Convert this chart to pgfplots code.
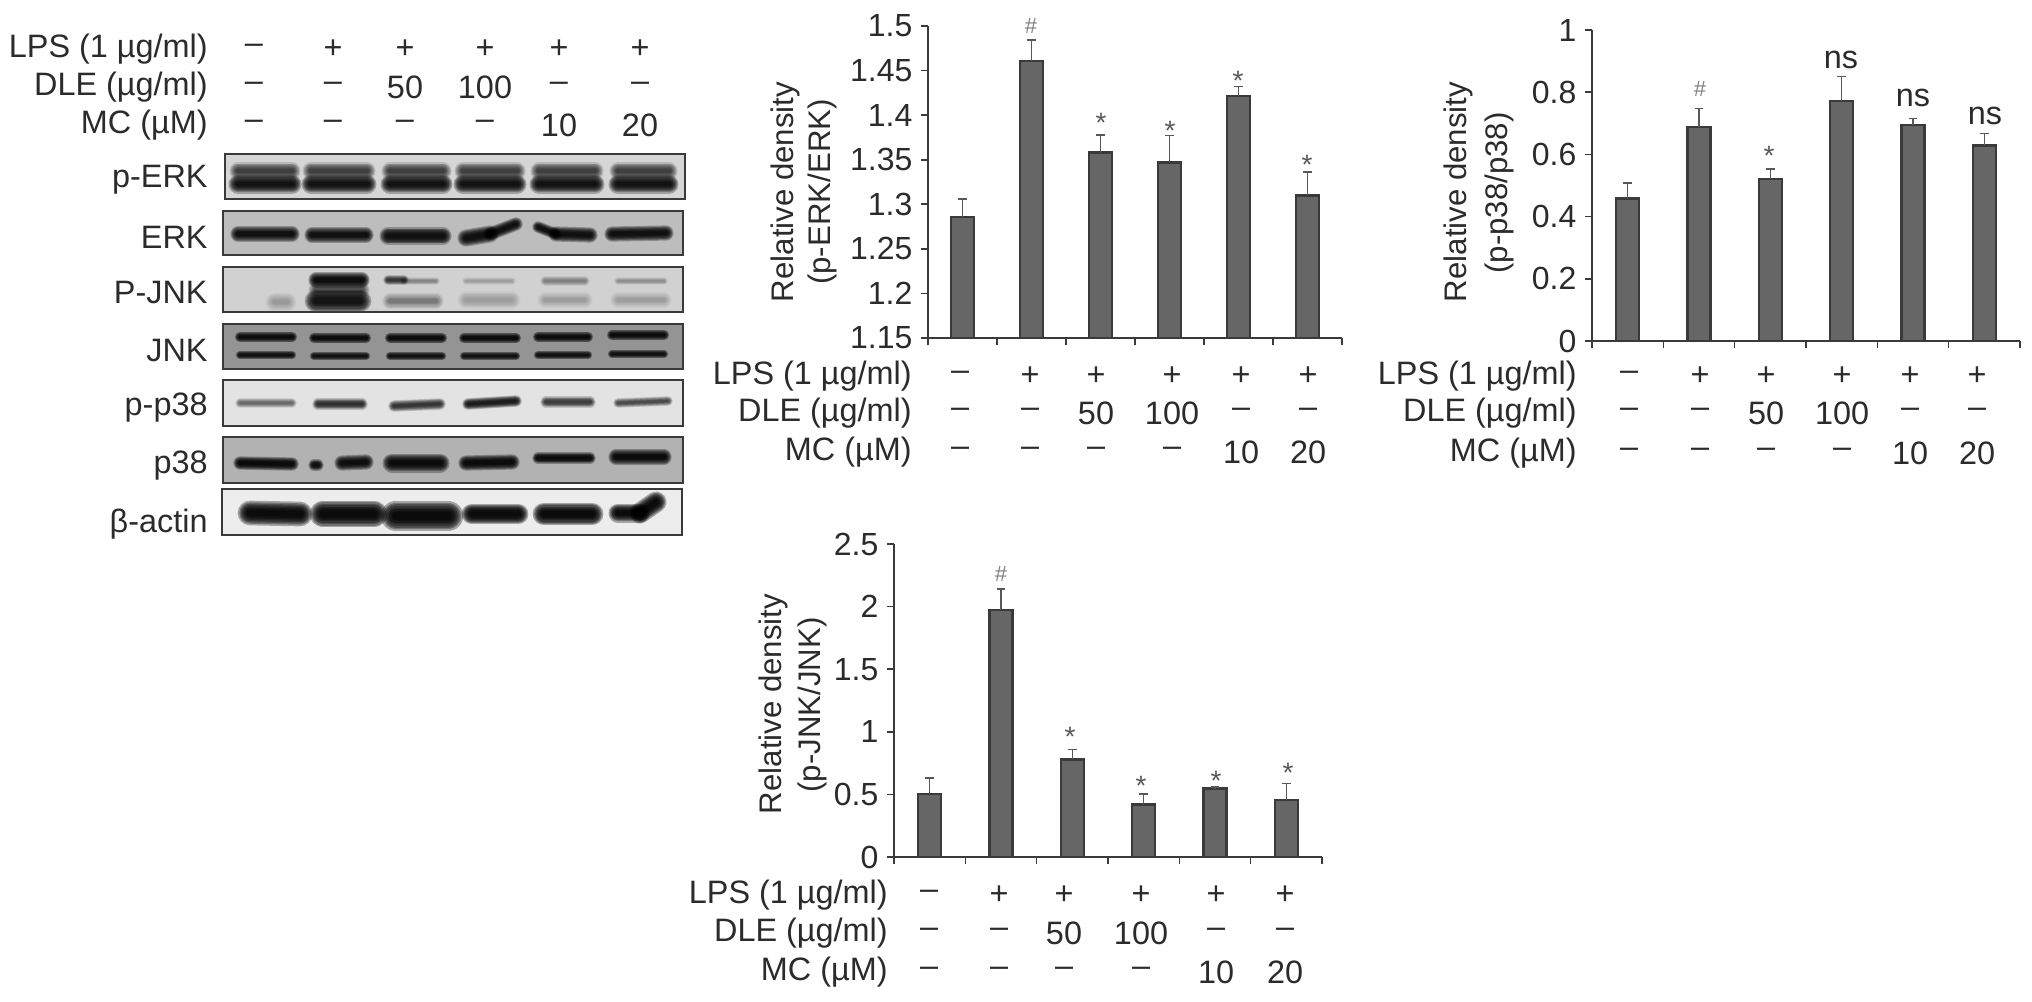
\documentclass[border=0pt]{standalone}
\usepackage{fontspec}
\setmainfont{Liberation Sans}
\usepackage{pgfplots}
\pgfplotsset{compat=1.18}
\definecolor{barfill}{HTML}{666666}
\definecolor{ink}{HTML}{2B2B2B}
\definecolor{edge}{HTML}{3A3A3A}
\pgfplotsset{densitybar/.style={
  scale only axis, axis lines=left, axis line style={-,edge,line width=0.9pt},
  xmin=0,xmax=6,xtick={0,1,2,3,4,5,6},xticklabels={},
  tick align=outside, major tick length=3.5pt, tick style={edge,line width=0.8pt},
  ybar, bar width=11.6pt,
  ticklabel style={font=\fontsize{16}{16}\selectfont,text=ink},
  yticklabel style={/pgf/number format/assume math mode=true,/pgf/number format/fixed,xshift=-0.8pt},
},
mybar/.style={fill=barfill,draw=edge,line width=1.2pt,
    error bars/y dir=plus,error bars/y explicit,
    error bars/error bar style={color=edge!85!white,line width=0.8pt},
    error bars/error mark options={rotate=90,mark size=2.2pt,line width=0.8pt,color=edge!85!white}},
}
% band(x1,y1,x2,y2,thick,opacity): blurred stroke built from stacked strokes
\newcommand\band[6]{\foreach \w in {1.9,1.65,1.45,1.25,1.05,0.85,0.65,0.45}{\draw[line cap=round,line width=\w*#5*0.5pt,draw=black,opacity=0.62*#6] (#1,#2)--(#3,#4);}}
\newcommand\panel[5]{\fill[#5] (#1,#2) rectangle (#3,#4); }
\newcommand\frameit[4]{\draw[edge,line width=1.3pt] (#1,#2) rectangle (#3,#4);}
\newcommand\lab[3]{\node[anchor=east,inner sep=0pt,text=ink,font=\fontsize{16.2}{16.2}\selectfont] at (#1,#2) {#3};}
\newcommand\sym[3]{\node[inner sep=0pt,text=ink,font=\fontsize{16.2}{16.2}\selectfont] at (#1,#2) {#3};}
\newcommand\rows[9]{%
  \lab{#1}{#2}{LPS (1 µg/ml)}\lab{#1}{#3}{DLE (µg/ml)}\lab{#1}{#4}{MC (µM)}%
  \def\ya{#2}\def\yb{#3}\def\yc{#4}%
  \sym{#5}{\ya}{–}\sym{#5}{\yb}{–}\sym{#5}{\yc}{–}%
  \sym{#6}{\ya}{+}\sym{#6}{\yb}{–}\sym{#6}{\yc}{–}%
  \sym{#7}{\ya}{+}\sym{#7}{\yb}{50}\sym{#7}{\yc}{–}%
  \sym{#8}{\ya}{+}\sym{#8}{\yb}{100}\sym{#8}{\yc}{–}%
  \rowsb#9}
\newcommand\rowsb[3]{\sym{#1}{\ya}{+}\sym{#1}{\yb}{–}\sym{#1}{\yc}{#3}%
  \sym{#2}{\ya}{+}\sym{#2}{\yb}{–}\sym{#2}{\yc}{20}}
\newcommand\ylab[5]{%
  \node[rotate=90,inner sep=0pt,text=ink,font=\fontsize{15.6}{15.6}\selectfont] at (#1,#2) {Relative density};
  \node[rotate=90,inner sep=0pt,text=ink,font=\fontsize{15.6}{15.6}\selectfont] at (#3,#4) {#5};}
\newcommand\hash[2]{\node[inner sep=0pt,text=black!50,font=\fontsize{11}{11}\selectfont] at (#1,#2) {\#};}
\newcommand\sta[2]{\node[anchor=north,inner sep=0pt,text=black!65,font=\fontsize{14}{14}\selectfont] at (#1,#2-6) {*};}
\newcommand\ns[2]{\node[inner sep=0pt,text=ink,font=\fontsize{16.2}{16.2}\selectfont] at (#1,#2) {ns};}
\begin{document}
\begin{tikzpicture}[x=0.5pt,y=-0.5pt]
\path[use as bounding box,fill=white] (0,0) rectangle (2032,1001);

% ---------- blot labels
\lab{208}{49}{LPS (1 µg/ml)}\lab{208}{87}{DLE (µg/ml)}\lab{208}{125}{MC (µM)}
\sym{254}{49}{–}\sym{254}{87}{–}\sym{254}{125}{–}
\sym{333}{49}{+}\sym{333}{87}{–}\sym{333}{125}{–}
\sym{405}{49}{+}\sym{405}{87}{50}\sym{405}{125}{–}
\sym{485}{49}{+}\sym{485}{87}{100}\sym{485}{125}{–}
\sym{559}{49}{+}\sym{559}{87}{–}\sym{559}{125}{10}
\sym{640}{49}{+}\sym{640}{87}{–}\sym{640}{125}{20}
\lab{208}{180}{p-ERK}\lab{208}{237}{ERK}\lab{208}{293}{P-JNK}\lab{208}{351}{JNK}
\lab{208}{408}{p-p38}\lab{208}{466}{p38}\lab{208}{524}{β-actin}

% ---------- blot panels
\panel{225}{154}{685}{199}{black!16}
\foreach \a/\b in {238/292,311/367,390/443,463/517,539/595,618/669}{\band{\a}{171}{\b}{171}{9}{0.22}\band{\a}{184}{\b}{184}{10}{0.42}}
\frameit{225}{154}{685}{199}

\panel{223}{211}{683}{255}{black!26}
\band{238}{234}{292}{234}{8}{0.42}\band{312}{235}{366}{235}{8}{0.42}\band{388}{236}{443}{236}{9}{0.42}
\band{466}{238}{490}{234}{9}{0.42}\band{490}{234}{516}{224}{7}{0.42}
\band{538}{227}{556}{234}{6}{0.42}\band{556}{234}{590}{235}{8}{0.42}\band{612}{234}{666}{233}{8}{0.42}
\frameit{223}{211}{683}{255}

\panel{223}{267}{683}{312}{black!18}
\band{275}{302}{287}{302}{10}{0.06}
\band{316}{280}{362}{280}{8}{0.45}\band{316}{290}{362}{290}{8}{0.18}\band{316}{301}{360}{301}{12}{0.4}
\band{388}{280}{404}{280}{5}{0.24}\band{404}{281}{436}{281}{4}{0.08}\band{390}{301}{436}{301}{8}{0.10}
\band{466}{281}{512}{281}{4}{0.05}\band{466}{300}{512}{300}{9}{0.05}
\band{545}{281}{585}{281}{5}{0.09}\band{545}{300}{585}{300}{8}{0.05}
\band{618}{281}{664}{281}{4}{0.07}\band{618}{300}{664}{300}{8}{0.05}
\frameit{223}{267}{683}{312}

\panel{223}{324}{683}{369}{black!42}
\foreach \a/\b/\u/\v in {240/292/337/355,314/366/338/356,390/442/338/356,464/516/338/356,538/588/337/355,612/664/335/354}{\band{\a}{\u}{\b}{\u}{5.5}{0.42}\band{\a}{\v}{\b}{\v}{4.5}{0.38}}
\frameit{223}{324}{683}{369}

\panel{223}{380}{683}{426}{black!11}
\band{240}{403}{292}{403}{5}{0.14}\band{318}{404}{362}{404}{6}{0.28}\band{394}{406}{440}{404}{6}{0.26}
\band{468}{404}{516}{401}{6}{0.36}\band{546}{402}{590}{402}{6}{0.24}\band{618}{403}{668}{401}{5}{0.2}
\frameit{223}{380}{683}{426}

\panel{223}{437}{683}{483}{black!30}
\band{240}{463}{292}{464}{7}{0.45}\band{314}{465}{318}{465}{6}{0.42}\band{342}{463}{366}{462}{8}{0.42}
\band{392}{463}{440}{463}{10}{0.45}\band{466}{463}{512}{462}{8}{0.45}\band{538}{458}{590}{458}{6}{0.45}\band{616}{457}{664}{457}{8}{0.45}
\frameit{223}{437}{683}{483}

\panel{222}{489}{682}{535}{black!7}
\band{250}{513}{300}{514}{13}{0.5}\band{323}{514}{374}{514}{14}{0.5}\band{396}{516}{448}{516}{16}{0.5}
\band{472}{514}{518}{514}{11}{0.5}\band{544}{514}{592}{514}{12}{0.5}\band{618}{513}{640}{513}{10}{0.5}\band{640}{513}{656}{502}{11}{0.5}
\frameit{222}{489}{682}{535}

% ---------- p-ERK/ERK
\begin{axis}[densitybar,at={(464pt,-169pt)},anchor=south west,width=207pt,height=156pt,
  ymin=1.15,ymax=1.5,ytick={1.15,1.2,1.25,1.3,1.35,1.4,1.45,1.5},
  yticklabels={1.15,1.2,1.25,1.3,1.35,1.4,1.45,1.5}]
\addplot[mybar] coordinates {(0.5,1.286) +- (0,0.020) (1.5,1.461) +- (0,0.023) (2.5,1.358) +- (0,0.020)
 (3.5,1.347) +- (0,0.030) (4.5,1.4215) +- (0,0.0105) (5.5,1.310) +- (0,0.026)};
\end{axis}
\ylab{785}{192}{822}{192}{(p-ERK/ERK)}
\hash{1031}{26}\sta{1101}{119}\sta{1170}{127}\sta{1238}{77}\sta{1307}{161}
\rows{912}{376}{413}{452}{960}{1030}{1096}{1172}{{1241}{1308}{10}}

% ---------- p-p38/p38
\begin{axis}[densitybar,at={(796pt,-170.5pt)},anchor=south west,width=214pt,height=155.5pt,
  ymin=0,ymax=1,ytick={0,0.2,0.4,0.6,0.8,1},yticklabels={0,0.2,0.4,0.6,0.8,1}]
\addplot[mybar] coordinates {(0.5,0.458) +- (0,0.051) (1.5,0.688) +- (0,0.060) (2.5,0.521) +- (0,0.032)
 (3.5,0.771) +- (0,0.079) (4.5,0.694) +- (0,0.021) (5.5,0.629) +- (0,0.038)};
\end{axis}
\ylab{1458}{192}{1499}{193}{(p-p38/p38)}
\hash{1700}{89}\sta{1769}{152}\ns{1841}{60}\ns{1913}{98}\ns{1985}{116}
\rows{1577}{376}{413}{453}{1629}{1700}{1766}{1842}{{1910}{1977}{10}}

% ---------- p-JNK/JNK
\begin{axis}[densitybar,at={(447pt,-428.5pt)},anchor=south west,width=214pt,height=156.5pt,
  ymin=0,ymax=2.5,ytick={0,0.5,1,1.5,2,2.5},yticklabels={0,0.5,1,1.5,2,2.5}]
\addplot[mybar] coordinates {(0.5,0.501) +- (0,0.128) (1.5,1.973) +- (0,0.166) (2.5,0.779) +- (0,0.080)
 (3.5,0.419) +- (0,0.085) (4.5,0.547) +- (0,0.013) (5.5,0.453) +- (0,0.134)};
\end{axis}
\ylab{773}{704}{812}{705}{(p-JNK/JNK)}
\hash{1001}{574}\sta{1070}{733}\sta{1141}{782}\sta{1216}{777}\sta{1288}{769}
\rows{888}{895}{933}{972}{929}{999}{1064}{1141}{{1216}{1285}{10}}
\end{tikzpicture}
\end{document}
